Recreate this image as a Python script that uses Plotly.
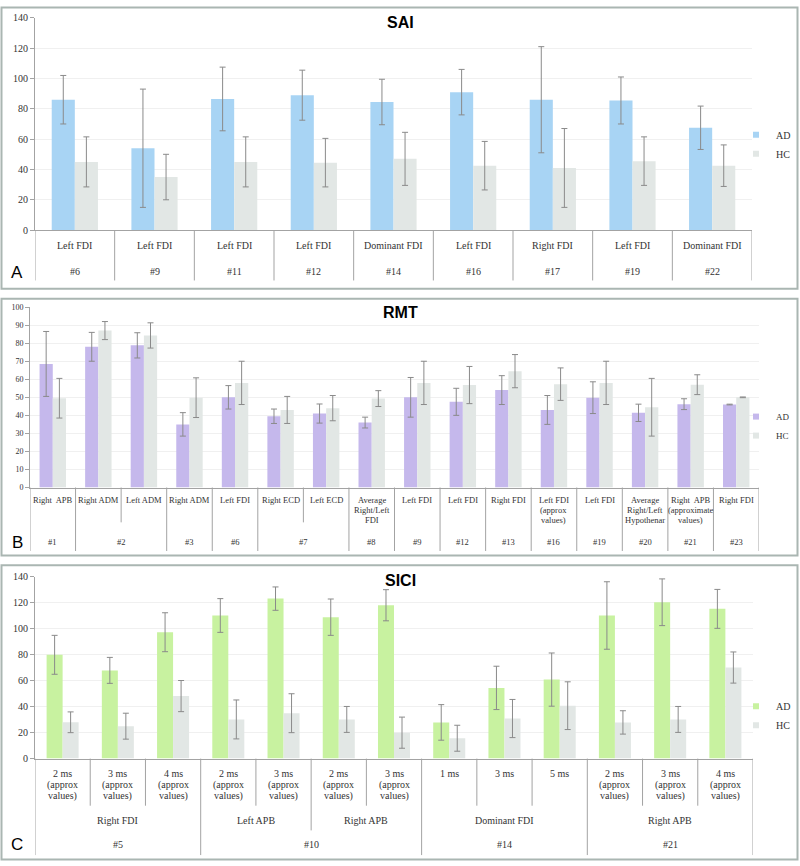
import plotly.graph_objects as go

W, H = 800, 866


def px(x):
    return x / W


def py(y):
    return 1 - y / H


# ---------------- data ----------------
# Panel A: SAI
sai_muscle = ["Left FDI", "Left FDI", "Left FDI", "Left FDI", "Dominant FDI",
              "Left FDI", "Right FDI", "Left FDI", "Dominant FDI"]
sai_study = ["#6", "#9", "#11", "#12", "#14", "#16", "#17", "#19", "#22"]
sai_ad = [86, 54, 86.5, 89, 84.5, 91, 86, 85.5, 67.5]
sai_ad_sd = [16, 39, 21, 16.5, 15, 15, 35, 15.5, 14.3]
sai_hc = [45, 35, 45, 44.5, 47, 42.5, 41, 45.5, 42.5]
sai_hc_sd = [16.5, 15, 16.5, 16, 17.5, 16, 26, 16, 13.7]

# Panel B: RMT
rmt_muscle = ["Right  APB", "Right ADM", "Left ADM", "Right ADM", "Left FDI",
              "Right ECD", "Left ECD", "Average<br>Right/Left<br>FDI", "Left FDI",
              "Left FDI", "Right FDI", "Left FDI<br>(approx<br>values)", "Left FDI",
              "Average<br>Right/Left<br>Hypothenar",
              "Right  APB<br>(approximate<br>values)", "Right FDI"]
rmt_study = ["#1", "#2", "#2", "#3", "#6", "#7", "#7", "#8", "#9", "#12", "#13",
             "#16", "#19", "#20", "#21", "#23"]
rmt_ad = [68.5, 78, 78.8, 35, 50, 39.5, 41, 36, 50, 47.5, 54, 43, 49.8, 41.4, 46.2, 46]
rmt_ad_sd = [18, 8, 7, 6.5, 6.5, 4, 5.3, 3, 11, 7.5, 8, 8, 8.8, 4.8, 3, 0.2]
rmt_hc = [49.5, 87, 84.3, 49.8, 58, 43, 44, 49.3, 58, 56.8, 64.5, 57.3, 58, 44.5, 57, 50]
rmt_hc_sd = [11, 5, 7, 11, 12, 7.5, 7, 4.4, 12, 10.3, 9.2, 9, 12, 16, 5.5, 0.2]

# Panel C: SICI
sici_isi = ["2 ms<br>(approx<br>values)", "3 ms<br>(approx<br>values)", "4 ms<br>(approx<br>values)",
            "2 ms<br>(approx<br>values)", "3 ms<br>(approx<br>values)",
            "2 ms<br>(approx<br>values)", "3 ms<br>(approx<br>values)",
            "1 ms", "3 ms", "5 ms",
            "2 ms<br>(approx<br>values)", "3 ms<br>(approx<br>values)", "4 ms<br>(approx<br>values)"]
sici_muscle = ["Right FDI", "Right FDI", "Right FDI", "Left APB", "Left APB",
               "Right APB", "Right APB", "Dominant FDI", "Dominant FDI", "Dominant FDI",
               "Right APB", "Right APB", "Right APB"]
sici_study = ["#5", "#5", "#5", "#10", "#10", "#10", "#10", "#14", "#14", "#14",
              "#21", "#21", "#21"]
sici_ad = [80, 68, 97.4, 110.3, 123.3, 109, 118.2, 27.9, 54.5, 60.9, 110.3, 120.5, 115.4]
sici_ad_sd = [15, 10, 15, 13, 9, 14, 12, 13.7, 16.7, 20.5, 26, 18, 15]
sici_hc = [28, 25, 48.2, 30.2, 35, 30.2, 20, 15.7, 30.9, 40.8, 27.9, 30.2, 70.2]
sici_hc_sd = [8, 10, 12, 15, 15, 10, 12, 10, 14.7, 18.4, 9, 10, 12]

series_names = ["AD", "HC"]

# ---------------- styling ----------------
HC_COLOR = "#e2e7e5"
ERR_COLOR = "#8a8a8a"
AXIS_COLOR = "#a3a3a3"
GRID_COLOR = "#f0f0f0"
BORDER_COLOR = "#aab6b2"
TEXT_COLOR = "#333333"
SERIF = "Liberation Serif"
SANS = "Liberation Sans"

panels = [
    dict(key="", letter="A", title="SAI", levels=[sai_muscle, sai_study],
         ad=sai_ad, ad_sd=sai_ad_sd, hc=sai_hc, hc_sd=sai_hc_sd,
         color="#a8d4f4", xdom=(35, 752), ydom=(227, 12), yrange=[0, 140], dtick=20,
         tickfont=10, labfont=10, label_y=[243, 269], line_sp=11, sep_bottom=[278, 278],
         legend="legend", leg_y=140, leg_font=10, title_y=17, letter_y=270,
         box=(1.5, 286.5)),
    dict(key="2", letter="B", title="RMT", levels=[rmt_muscle, rmt_study],
         ad=rmt_ad, ad_sd=rmt_ad_sd, hc=rmt_hc, hc_sd=rmt_hc_sd,
         color="#c5b8ec", xdom=(30, 759), ydom=(487.7, 305), yrange=[0, 100], dtick=10,
         tickfont=8, labfont=8.5, label_y=[500.7, 543], line_sp=9.8, sep_bottom=[523, 552],
         legend="legend2", leg_y=425.5, leg_font=9, title_y=310, letter_y=543,
         box=(296.5, 556.5)),
    dict(key="3", letter="C", title="SICI", levels=[sici_isi, sici_muscle, sici_study],
         ad=sici_ad, ad_sd=sici_ad_sd, hc=sici_hc, hc_sd=sici_hc_sd,
         color="#c8f2a0", xdom=(35, 753), ydom=(762.3, 578.3), yrange=[0, 140], dtick=20,
         tickfont=10, labfont=10, label_y=[777.7, 825, 849.3], line_sp=11,
         sep_bottom=[810, 835, 860],
         legend="legend3", leg_y=719, leg_font=10, title_y=582, letter_y=849,
         box=(566.5, 864.5)),
]

fig = go.Figure()
shapes = []
annotations = []
layout = dict(
    width=W, height=H, margin=dict(l=0, r=0, t=0, b=0),
    paper_bgcolor="white", plot_bgcolor="white",
    barmode="group", bargap=0.42, bargroupgap=0,
)

for p in panels:
    k = p["key"]
    xname, yname = "x" + k, "y" + k
    n = len(p["ad"])
    idx = list(range(n))

    for name, vals, sd, col in [("AD", p["ad"], p["ad_sd"], p["color"]),
                                ("HC", p["hc"], p["hc_sd"], HC_COLOR)]:
        fig.add_trace(go.Bar(
            x=idx, y=vals, name=name, xaxis=xname, yaxis=yname, showlegend=False,
            marker=dict(color=col, line=dict(width=0)),
            error_y=dict(type="data", array=sd, color=ERR_COLOR, thickness=1, width=3),
        ))
        # legend entry (small square as in the original)
        fig.add_trace(go.Scatter(
            x=[None], y=[None], mode="markers", name=name, xaxis=xname, yaxis=yname,
            marker=dict(symbol="square", size=6, color=col),
            legend=p["legend"], showlegend=True, hoverinfo="skip",
        ))

    layout["xaxis" + k] = dict(
        domain=[px(p["xdom"][0]), px(p["xdom"][1])], anchor=yname,
        range=[-0.5, n - 0.5], showgrid=False, zeroline=False,
        showline=True, linecolor=AXIS_COLOR, linewidth=1,
        showticklabels=False, ticks="", fixedrange=True,
    )
    layout["yaxis" + k] = dict(
        domain=[py(p["ydom"][0]), py(p["ydom"][1])], anchor=xname,
        range=p["yrange"], dtick=p["dtick"], tick0=0,
        showgrid=True, gridcolor=GRID_COLOR, gridwidth=1, zeroline=False,
        showline=True, linecolor=AXIS_COLOR, linewidth=1,
        ticks="outside", ticklen=4, tickcolor=AXIS_COLOR,
        tickfont=dict(family=SERIF, size=p["tickfont"], color=TEXT_COLOR),
    )
    layout[p["legend"]] = dict(
        x=px(736), y=py(p["leg_y"]), xanchor="left", yanchor="middle",
        bgcolor="rgba(0,0,0,0)", borderwidth=0, itemwidth=30,
        font=dict(family=SERIF, size=p["leg_font"], color=TEXT_COLOR),
        tracegroupgap=0,
    )

    # ---- category labels (multi-level, table style) ----
    levels = p["levels"]
    nl = len(levels)

    def key_of(i, L):
        return tuple(levels[m][i] for m in range(L, nl))

    for L in range(nl):
        runs = []
        start = 0
        for i in range(1, n + 1):
            if L == 0 or i == n or key_of(i, L) != key_of(start, L):
                runs.append((start, i - 1))
                start = i
        for (a, b) in runs:
            text = levels[L][a]
            lines = text.split("<br>")
            for j, ln in enumerate(lines):
                annotations.append(dict(
                    x=(a + b) / 2, xref=xname, y=py(p["label_y"][L] + j * p["line_sp"]),
                    yref="paper", text=ln, showarrow=False, xanchor="center",
                    yanchor="middle",
                    font=dict(family=SERIF, size=p["labfont"], color=TEXT_COLOR),
                ))

    # separators
    for bnd in range(n + 1):
        if bnd == 0 or bnd == n:
            depth = nl - 1
        else:
            depth = 0
            for L in range(nl):
                if key_of(bnd - 1, L) != key_of(bnd, L):
                    depth = L
        shapes.append(dict(
            type="line", xref=xname, yref="paper",
            x0=bnd - 0.5, x1=bnd - 0.5,
            y0=py(p["ydom"][0]), y1=py(p["sep_bottom"][depth]),
            line=dict(color=AXIS_COLOR, width=1),
        ))

    # title and panel letter
    annotations.append(dict(
        x=0.5, xref="paper", y=py(p["title_y"]), yref="paper", text="<b>%s</b>" % p["title"],
        showarrow=False, xanchor="center", yanchor="middle",
        font=dict(family=SANS, size=16, color="black"),
    ))
    annotations.append(dict(
        x=px(17), xref="paper", y=py(p["letter_y"]), yref="paper", text=p["letter"],
        showarrow=False, xanchor="center", yanchor="middle",
        font=dict(family=SANS, size=17, color="black"),
    ))
    # panel frame
    shapes.append(dict(
        type="rect", xref="paper", yref="paper",
        x0=px(1.5), x1=px(797.5), y0=py(p["box"][1]), y1=py(p["box"][0]),
        line=dict(color=BORDER_COLOR, width=2), fillcolor="rgba(0,0,0,0)",
    ))

layout["shapes"] = shapes
layout["annotations"] = annotations
fig.update_layout(**layout)

# remove the browser's default 8px body margin so the figure sits at (0, 0)
fig.write_html("out.html",
               config={"displayModeBar": False},
               post_script="document.body.style.margin='0';"
                           "document.body.style.overflow='hidden';")
